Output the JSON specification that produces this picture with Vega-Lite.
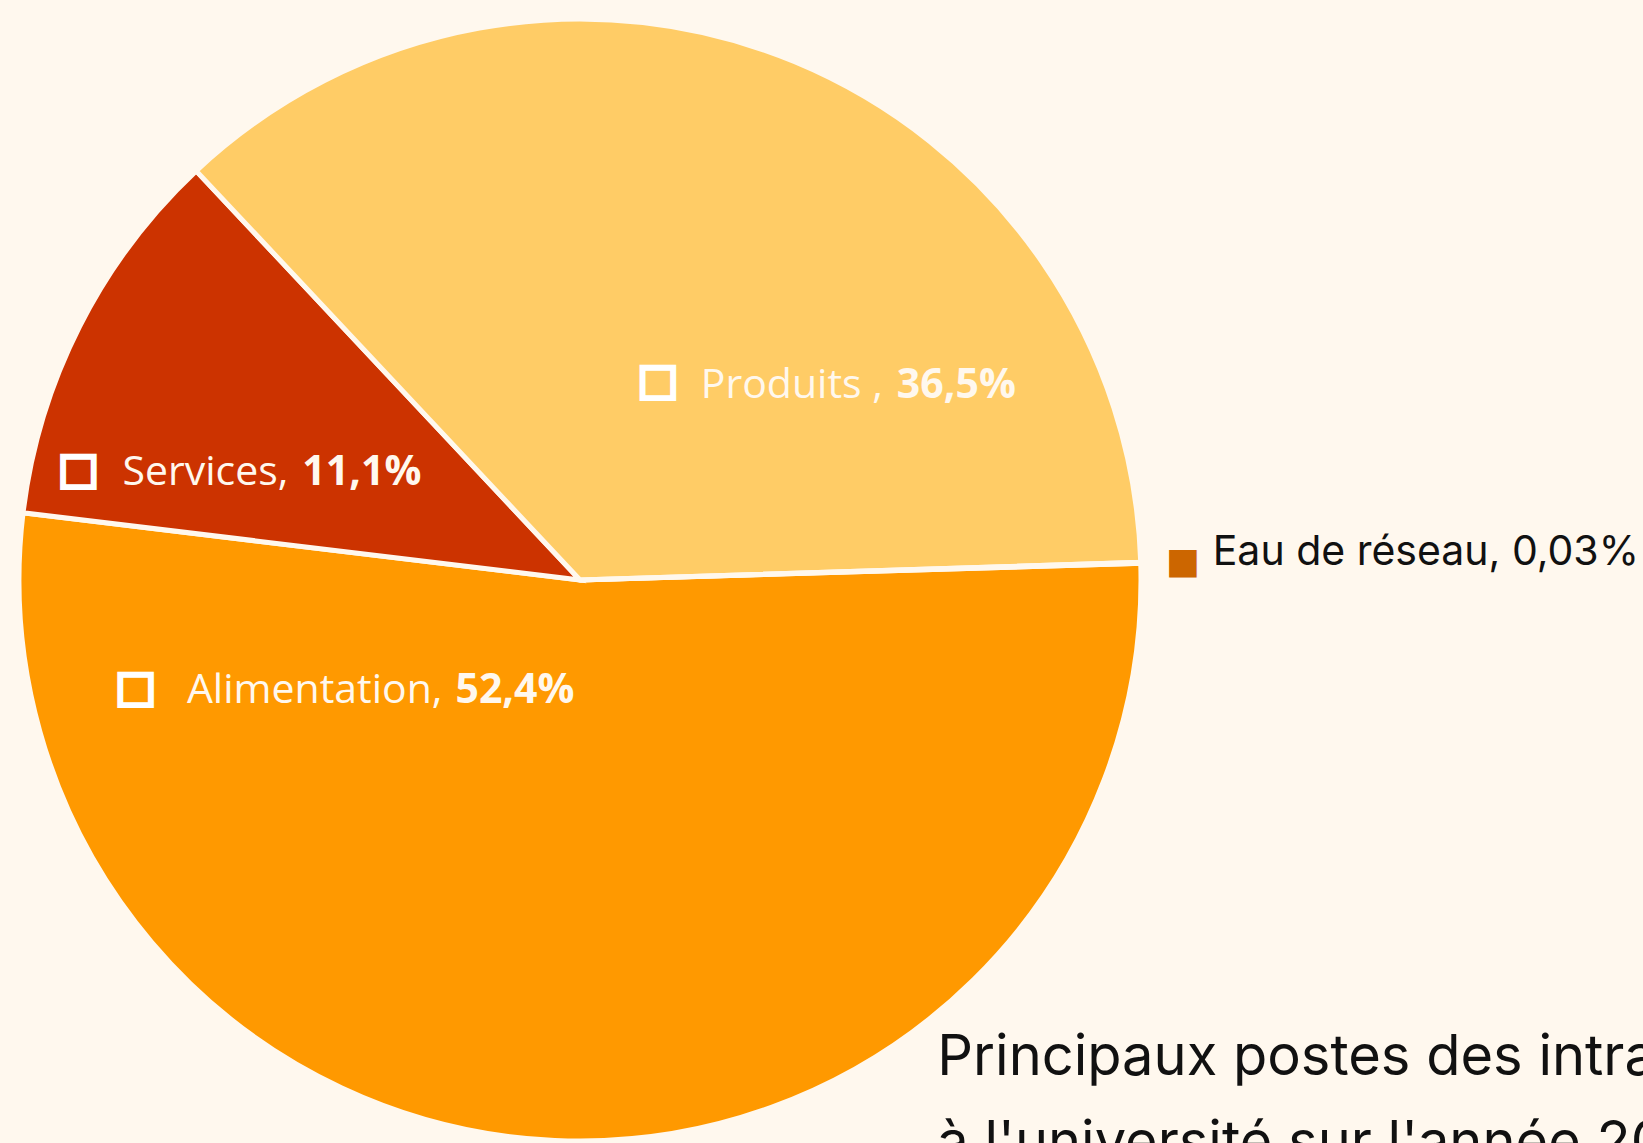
{
  "$schema": "https://vega.github.io/schema/vega-lite/v6.json",
  "width": 1122,
  "height": 1122,
  "autosize": {"type": "none"},
  "padding": {"left": 19, "top": 19, "right": 502, "bottom": 2},
  "background": "#FFF8EE",
  "config": {"view": {"stroke": null}},
  "title": {
    "text": ["Principaux postes des intrants", "à l'université sur l'année 2022"],
    "orient": "bottom",
    "anchor": "start",
    "align": "left",
    "baseline": "alphabetic",
    "font": "Inter",
    "fontSize": 56,
    "fontWeight": "normal",
    "color": "#111111",
    "lineHeight": 86,
    "offset": 0,
    "dx": 1056,
    "dy": -125
  },
  "data": {
    "values": [
      {"cat": "Alimentation", "lbl": "Alimentation,", "pct": "52,4%", "v": 52.4, "ord": 1},
      {"cat": "Services", "lbl": "Services,", "pct": "11,1%", "v": 11.1, "ord": 2},
      {"cat": "Produits", "lbl": "Produits ,", "pct": "36,5%", "v": 36.5, "ord": 3},
      {"cat": "Eau de réseau", "lbl": "Eau de réseau, 0,03%", "pct": "0,03%", "v": 0.03, "ord": 4}
    ]
  },
  "encoding": {
    "theta": {"field": "v", "type": "quantitative", "stack": true, "scale": {"range": [1.5411, 7.8243], "nice": false, "zero": true}},
    "order": {"field": "ord", "type": "quantitative"},
    "detail": {"field": "cat", "type": "nominal"}
  },
  "layer": [
    {
      "mark": {"type": "arc", "stroke": "#FFF8EE", "strokeWidth": 5},
      "encoding": {
        "color": {
          "field": "cat",
          "type": "nominal",
          "scale": {"domain": ["Alimentation", "Services", "Produits", "Eau de réseau"], "range": ["#FF9900", "#CC3300", "#FFCC66", "#CC6600"]},
          "legend": null
        }
      }
    },
    {
      "mark": {"type": "text", "radius": 300, "align": "center", "baseline": "middle", "font": "DejaVu Sans", "fontSize": 43, "fill": "#FFFFFF", "stroke": "#FFFFFF", "strokeWidth": 3.5, "dx": -431, "dy": -192},
      "encoding": {"text": {"condition": {"test": "datum.cat === 'Alimentation'", "value": "□"}, "value": ""}}
    },
    {
      "mark": {"type": "text", "radius": 300, "align": "right", "baseline": "alphabetic", "font": "Open Sans", "fontSize": 41, "fill": "#FFF8EE", "dx": -124, "dy": -177},
      "encoding": {"text": {"condition": {"test": "datum.cat === 'Alimentation'", "field": "lbl"}, "value": ""}}
    },
    {
      "mark": {"type": "text", "radius": 300, "align": "left", "baseline": "alphabetic", "font": "Open Sans", "fontSize": 41, "fontWeight": "bold", "fill": "#FFF8EE", "dx": -111, "dy": -177},
      "encoding": {"text": {"condition": {"test": "datum.cat === 'Alimentation'", "field": "pct"}, "value": ""}}
    },
    {
      "mark": {"type": "text", "radius": 300, "align": "center", "baseline": "middle", "font": "DejaVu Sans", "fontSize": 43, "fill": "#FFFFFF", "stroke": "#FFFFFF", "strokeWidth": 3.5, "dx": -234, "dy": 26},
      "encoding": {"text": {"condition": {"test": "datum.cat === 'Services'", "value": "□"}, "value": ""}}
    },
    {
      "mark": {"type": "text", "radius": 300, "align": "right", "baseline": "alphabetic", "font": "Open Sans", "fontSize": 41, "fill": "#FFF8EE", "dx": -24, "dy": 41},
      "encoding": {"text": {"condition": {"test": "datum.cat === 'Services'", "field": "lbl"}, "value": ""}}
    },
    {
      "mark": {"type": "text", "radius": 300, "align": "left", "baseline": "alphabetic", "font": "Open Sans", "fontSize": 41, "fontWeight": "bold", "fill": "#FFF8EE", "dx": -10, "dy": 41},
      "encoding": {"text": {"condition": {"test": "datum.cat === 'Services'", "field": "pct"}, "value": ""}}
    },
    {
      "mark": {"type": "text", "radius": 300, "align": "center", "baseline": "middle", "font": "DejaVu Sans", "fontSize": 43, "fill": "#FFFFFF", "stroke": "#FFFFFF", "strokeWidth": 3.5, "dx": -37, "dy": 78},
      "encoding": {"text": {"condition": {"test": "datum.cat === 'Produits'", "value": "□"}, "value": ""}}
    },
    {
      "mark": {"type": "text", "radius": 300, "align": "right", "baseline": "alphabetic", "font": "Open Sans", "fontSize": 41, "fill": "#FFF8EE", "dx": 188, "dy": 95},
      "encoding": {"text": {"condition": {"test": "datum.cat === 'Produits'", "field": "lbl"}, "value": ""}}
    },
    {
      "mark": {"type": "text", "radius": 300, "align": "left", "baseline": "alphabetic", "font": "Open Sans", "fontSize": 41, "fontWeight": "bold", "fill": "#FFF8EE", "dx": 202, "dy": 95},
      "encoding": {"text": {"condition": {"test": "datum.cat === 'Produits'", "field": "pct"}, "value": ""}}
    },
    {
      "mark": {"type": "text", "radius": 603, "align": "center", "baseline": "middle", "font": "DejaVu Sans", "fontSize": 36, "fill": "#CC6600", "dx": 0, "dy": 0},
      "encoding": {"text": {"condition": {"test": "datum.cat === 'Eau de réseau'", "value": "■"}, "value": ""}}
    },
    {
      "mark": {"type": "text", "radius": 603, "align": "left", "baseline": "alphabetic", "font": "Inter", "fontSize": 41, "fill": "#111111", "dx": 30, "dy": 3},
      "encoding": {"text": {"condition": {"test": "datum.cat === 'Eau de réseau'", "field": "lbl"}, "value": ""}}
    }
  ]
}
